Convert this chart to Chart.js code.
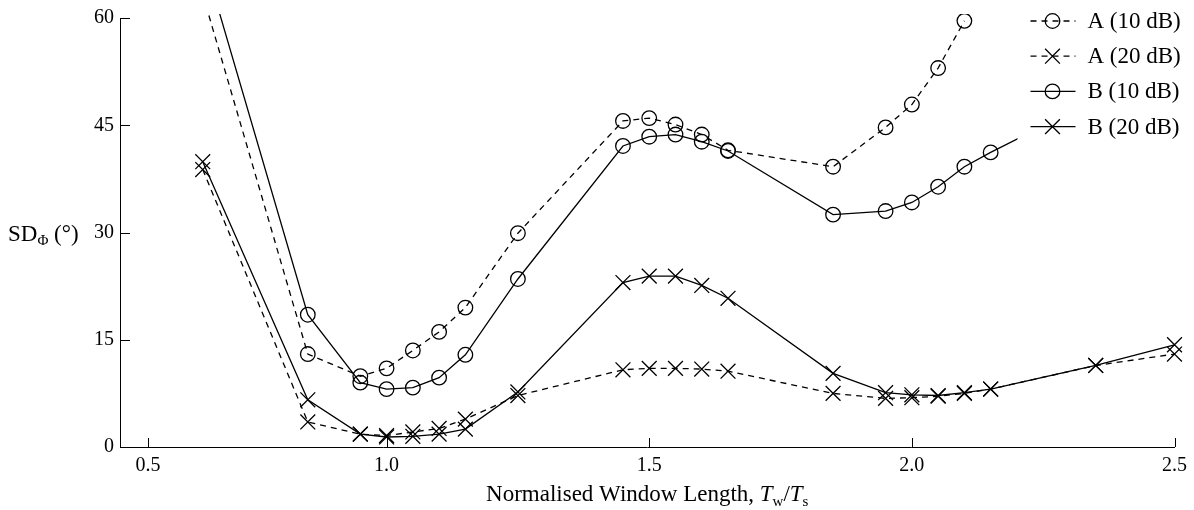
<!DOCTYPE html>
<html>
<head>
<meta charset="utf-8">
<script src="https://cdn.jsdelivr.net/npm/chart.js"></script>
<style>
  html, body { margin: 0; padding: 0; background: #fff; }
</style>
</head>
<body>
<canvas id="chart" width="1194" height="510"></canvas>
<script>
// Normalised window length Tw/Ts (shared by all series; shorter series use the first n values)
const xWindow = [0.65, 0.85, 0.95, 1.0, 1.05, 1.1, 1.15, 1.25, 1.45, 1.5, 1.55, 1.6, 1.65,
                 1.85, 1.95, 2.0, 2.05, 2.1, 2.15, 2.35, 2.5];

// SD of phase (degrees)
const sdA10 = [63.3, 13.0, 9.9, 11.0, 13.5, 16.1, 19.5, 29.9, 45.6, 46.0, 45.1, 43.7, 41.5,
               39.2, 44.7, 47.9, 53.0, 59.6];
const sdA20 = [38.8, 3.5, 1.8, 1.6, 2.1, 2.6, 3.9, 7.2, 10.8, 11.0, 11.0, 10.9, 10.6,
               7.5, 6.8, 6.9, 7.1, 7.5, 8.1, 11.4, 13.0];
const sdB10 = [68.7, 18.5, 9.0, 8.1, 8.3, 9.7, 12.9, 23.5, 42.1, 43.4, 43.7, 42.7, 41.4,
               32.5, 33.0, 34.2, 36.4, 39.2, 41.2, 48.6];
const sdB20 = [39.9, 6.6, 1.8, 1.4, 1.5, 1.8, 2.5, 7.7, 23.0, 23.9, 23.9, 22.6, 20.8,
               10.3, 7.6, 7.3, 7.2, 7.6, 8.1, 11.4, 14.3];

const seriesNames = ['A (10 dB)', 'A (20 dB)', 'B (10 dB)', 'B (20 dB)'];
const yTicks = [0, 15, 30, 45, 60];
const xTickValues = [0.546, 1.0, 1.5, 2.0, 2.5];
const xTickLabels = ['0.5', '1.0', '1.5', '2.0', '2.5'];

const SERIF = "'Liberation Serif', 'Times New Roman', serif";
const DASH = [6, 5];

function toPoints(ys) {
    return ys.map((y, i) => ({ x: xWindow[i], y: y }));
}

function series(label, ys, dashed, marker) {
    return {
        label: label,
        data: toPoints(ys),
        borderColor: '#000',
        borderWidth: 1.3,
        borderDash: dashed ? DASH : [],
        pointStyle: marker,
        pointRadius: marker === 'circle' ? 7.3 : 10.5,
        pointBorderColor: '#000',
        pointBorderWidth: 1.3,
        pointBackgroundColor: 'rgba(0,0,0,0)',
        tension: 0,
        fill: false,
        clip: { left: 10, top: 4, right: 12, bottom: 10 }
    };
}

// marker for the legend
function drawMarker(ctx, style, x, y) {
    ctx.save();
    ctx.setLineDash([]);
    ctx.lineWidth = 1.3;
    ctx.strokeStyle = '#000';
    ctx.beginPath();
    if (style === 'circle') {
        ctx.arc(x, y, 7.3, 0, Math.PI * 2);
    } else {
        const d = 7.4;
        ctx.moveTo(x - d, y - d); ctx.lineTo(x + d, y + d);
        ctx.moveTo(x - d, y + d); ctx.lineTo(x + d, y - d);
    }
    ctx.stroke();
    ctx.restore();
}

const paperPlugin = {
    id: 'paper',
    afterDraw(chart) {
        const ctx = chart.ctx;
        const area = chart.chartArea;
        const xs = chart.scales.x, ys = chart.scales.y;

        // inward tick marks
        ctx.save();
        ctx.strokeStyle = '#000';
        ctx.lineWidth = 1;
        ctx.beginPath();
        xTickValues.forEach(v => {
            const px = Math.round(xs.getPixelForValue(v)) + 0.5;
            ctx.moveTo(px, area.bottom); ctx.lineTo(px, area.bottom - 9);
        });
        yTicks.forEach(v => {
            const py = Math.round(ys.getPixelForValue(v)) + 0.5;
            ctx.moveTo(area.left, py); ctx.lineTo(area.left + 10, py);
        });
        ctx.stroke();

        // legend (white box over the plot, top right)
        const lx = area.right - 157;
        ctx.fillStyle = '#fff';
        ctx.fillRect(lx, 0, chart.width - lx, 145);
        const styles = [['circle', true], ['crossRot', true], ['circle', false], ['crossRot', false]];
        ctx.font = '23px ' + SERIF;
        ctx.fillStyle = '#000';
        ctx.textBaseline = 'middle';
        ctx.textAlign = 'left';
        styles.forEach((s, i) => {
            const y = 21 + i * 35.2;
            ctx.save();
            ctx.lineWidth = 1.3;
            ctx.setLineDash(s[1] ? DASH : []);
            ctx.beginPath();
            ctx.moveTo(lx + 13, y); ctx.lineTo(lx + 58, y);
            ctx.stroke();
            ctx.restore();
            drawMarker(ctx, s[0], lx + 35, y);
            ctx.fillText(seriesNames[i], lx + 70, y + 1);
        });

        // y title: SD_Phi (deg)
        ctx.textBaseline = 'alphabetic';
        let x = 8;
        const yb = ys.getPixelForValue(30) + 8;
        ctx.font = '23px ' + SERIF;
        ctx.fillText('SD', x, yb); x += ctx.measureText('SD').width;
        ctx.font = '15px ' + SERIF;
        ctx.fillText('\u03A6', x, yb + 4); x += ctx.measureText('\u03A6').width;
        ctx.font = '23px ' + SERIF;
        ctx.fillText(' (\u00B0)', x, yb);

        // x title: Normalised Window Length, Tw/Ts
        const parts = [
            ['Normalised Window Length, ', '23px ' + SERIF, 0],
            ['T', 'italic 23px ' + SERIF, 0],
            ['w', '15px ' + SERIF, 5],
            ['/', '23px ' + SERIF, 0],
            ['T', 'italic 23px ' + SERIF, 0],
            ['s', '15px ' + SERIF, 5]
        ];
        let total = 0;
        parts.forEach(p => { ctx.font = p[1]; total += ctx.measureText(p[0]).width; });
        x = (area.left + area.right) / 2 - total / 2;
        const xb = 501;
        parts.forEach(p => {
            ctx.font = p[1];
            ctx.fillText(p[0], x, xb + p[2]);
            x += ctx.measureText(p[0]).width;
        });
        ctx.restore();
    }
};

new Chart(document.getElementById('chart'), {
    type: 'line',
    data: {
        datasets: [
            series(seriesNames[0], sdA10, true, 'circle'),
            series(seriesNames[1], sdA20, true, 'crossRot'),
            series(seriesNames[2], sdB10, false, 'circle'),
            series(seriesNames[3], sdB20, false, 'crossRot')
        ]
    },
    options: {
        responsive: false,
        animation: false,
        devicePixelRatio: 1,
        layout: { padding: { left: 0, right: 17, top: 18, bottom: 0 } },
        plugins: {
            legend: { display: false },
            tooltip: { enabled: false }
        },
        scales: {
            x: {
                type: 'linear',
                min: 0.4925,
                max: 2.5,
                grid: { display: false, drawTicks: false },
                border: { display: true, color: '#000', width: 1 },
                afterBuildTicks: s => { s.ticks = xTickValues.map(v => ({ value: v })); },
                afterFit: s => { s.height = 63; },
                ticks: {
                    autoSkip: false,
                    maxRotation: 0,
                    padding: 7,
                    color: '#000',
                    font: { family: SERIF, size: 20 },
                    callback: (v, i) => xTickLabels[i]
                }
            },
            y: {
                min: 0,
                max: 60,
                grid: { display: false, drawTicks: false },
                border: { display: true, color: '#000', width: 1 },
                afterBuildTicks: s => { s.ticks = yTicks.map(v => ({ value: v })); },
                afterFit: s => { s.width = 120; },
                ticks: {
                    padding: 6,
                    color: '#000',
                    font: { family: SERIF, size: 20 },
                    callback: v => String(v)
                }
            }
        }
    },
    plugins: [paperPlugin]
});
</script>
</body>
</html>
